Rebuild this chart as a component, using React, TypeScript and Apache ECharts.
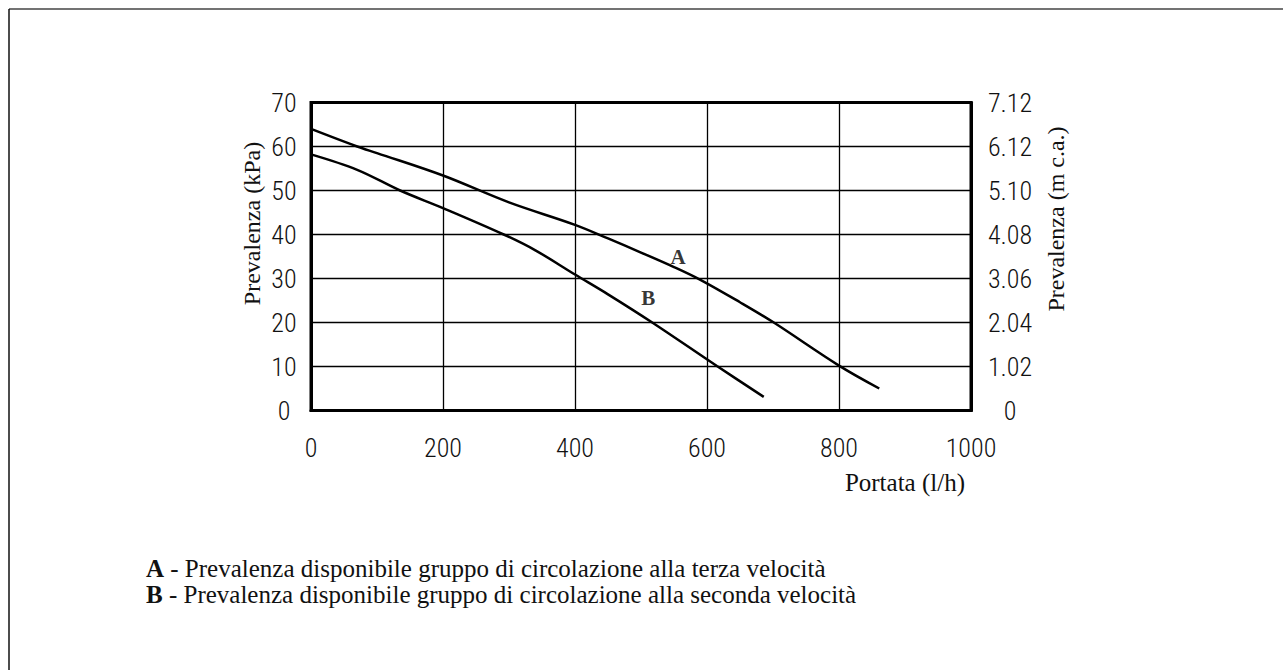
import React, { useEffect, useRef } from "react";
import * as echarts from "echarts";

const xTicks = [0, 200, 400, 600, 800, 1000];
const leftTicks = [0, 10, 20, 30, 40, 50, 60, 70];
const rightLabels = ["0", "1.02", "2.04", "3.06", "4.08", "5.10", "6.12", "7.12"];

const curveA: [number, number][] = [
  [0, 64], [70, 60], [100, 58.5], [200, 53.4], [300, 47.3], [400, 42.2],
  [450, 39.1], [500, 35.9], [550, 32.6], [590, 29.7], [650, 24.6], [700, 20.1], [800, 10.2], [861, 5],
];
const curveB: [number, number][] = [
  [0, 58.2], [70, 54.7], [135, 50], [200, 46], [292, 40], [340, 36.4], [400, 30.9],
  [450, 26.4], [517, 20], [615, 10.1], [686, 3.1],
];
const curveLabels: { name: string; value: [number, number] }[] = [
  { name: "A", value: [556, 34.9] },
  { name: "B", value: [511, 25.6] },
];
const legendLines = [
  { key: "A", text: " - Prevalenza disponibile gruppo di circolazione alla terza velocità" },
  { key: "B", text: " - Prevalenza disponibile gruppo di circolazione alla seconda velocità" },
];

const tickFont = "'Roboto Condensed', Roboto, 'DejaVu Sans', sans-serif";
const serif = "'Liberation Serif', 'DejaVu Serif', serif";

export default function App() {
  const ref = useRef<HTMLDivElement>(null);
  useEffect(() => {
    if (!ref.current) return;
    const chart = echarts.init(ref.current, null, { renderer: "svg" });
    const lbl = { color: "#111", fontFamily: tickFont, fontWeight: 300, fontSize: 26 };
    chart.setOption({
      animation: false,
      backgroundColor: "#fff",
      grid: { left: 311, top: 102.5, right: 312, bottom: 259.5, show: true, borderColor: "#000", borderWidth: 3, backgroundColor: "transparent" },
      xAxis: {
        type: "value", min: xTicks[0], max: xTicks[xTicks.length - 1], interval: 200,
        axisLine: { show: true, lineStyle: { color: "#000", width: 3 } },
        axisTick: { show: false },
        splitLine: { show: true, lineStyle: { color: "#000", width: 1.3 } },
        axisLabel: { ...lbl, margin: 37, verticalAlign: "middle", formatter: (v: number) => String(xTicks[Math.round(v / 200)]) },
      },
      yAxis: [
        {
          type: "value", min: 0, max: 70, interval: 10,
          axisLine: { show: true, lineStyle: { color: "#000", width: 3 } },
          axisTick: { show: false },
          splitLine: { show: true, lineStyle: { color: "#000", width: 1.3 } },
          axisLabel: { ...lbl, margin: 27, align: "center",
            formatter: (v: number) => String(leftTicks[Math.round(v / 10)]) },
        },
        {
          type: "value", min: 0, max: 70, interval: 10, position: "right",
          axisLine: { show: true, lineStyle: { color: "#000", width: 3 } },
          axisTick: { show: false },
          splitLine: { show: false },
          axisLabel: { ...lbl, margin: 39, align: "center",
            formatter: (v: number) => rightLabels[Math.round(v / 10)] },
        },
      ],
      series: [
        { type: "line", data: curveA, smooth: 0.35, symbol: "none", lineStyle: { color: "#000", width: 2.5 } },
        { type: "line", data: curveB, smooth: 0.35, symbol: "none", lineStyle: { color: "#000", width: 2.5 } },
        {
          type: "scatter", data: curveLabels, symbolSize: 0,
          label: { show: true, formatter: (p: any) => p.name, color: "#000", fontFamily: serif, fontWeight: "bold", fontSize: 21, position: "inside" },
        },
      ],
      graphic: [
        { type: "line", shape: { x1: 9, y1: 9, x2: 1283, y2: 9 }, style: { stroke: "#444", lineWidth: 1.5 } },
        { type: "line", shape: { x1: 9, y1: 9, x2: 9, y2: 670 }, style: { stroke: "#111", lineWidth: 1.5 } },
        { type: "text", x: 252, y: 223.5, rotation: Math.PI / 2, style: { text: "Prevalenza (kPa)", fill: "#111", font: `24px ${serif}`, textAlign: "center", textVerticalAlign: "middle" } },
        { type: "text", x: 1056, y: 219, rotation: Math.PI / 2, style: { text: "Prevalenza (m c.a.)", fill: "#111", font: `24px ${serif}`, textAlign: "center", textVerticalAlign: "middle" } },
        { type: "text", x: 965, y: 482, style: { text: "Portata (l/h)", fill: "#111", font: `25px ${serif}`, textAlign: "right", textVerticalAlign: "middle" } },
        ...legendLines.map((l, i) => ({
          type: "text", x: 146, y: 568 + i * 26,
          style: {
            text: `{b|${l.key}}{n|${l.text}}`, textVerticalAlign: "middle",
            rich: {
              b: { font: `bold 25px ${serif}`, fill: "#111" },
              n: { font: `25px ${serif}`, fill: "#111" },
            },
          },
        })),
      ],
    });
    return () => chart.dispose();
  }, []);
  return <div ref={ref} style={{ position: "absolute", left: 0, top: 0, width: 1283, height: 670 }} />;
}
